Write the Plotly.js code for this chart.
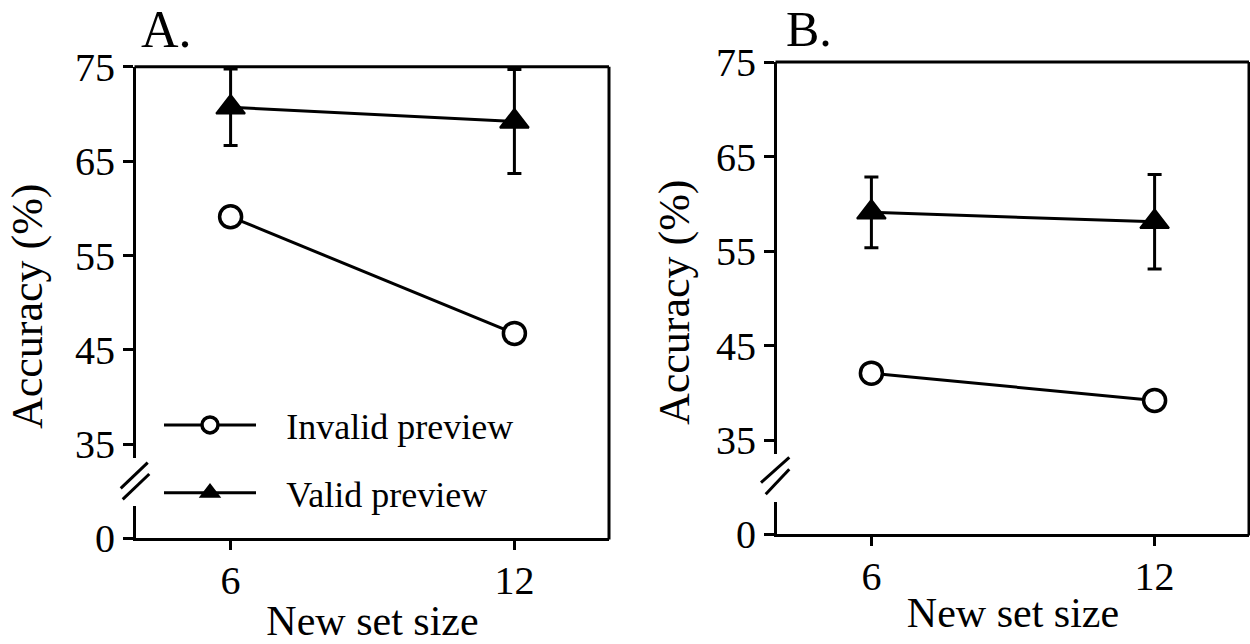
<!DOCTYPE html>
<html>
<head>
<meta charset="utf-8">
<script src="https://cdn.plot.ly/plotly-3.0.1.min.js"></script>
<style>html,body{margin:0;padding:0;background:#fff;}#chart{width:1250px;height:644px;}</style>
</head>
<body>
<div id="chart"></div>
<script>
// ---- data ----
const setSize = [6, 12];
const xTickVals = [6, 12];
const yUpperTicks = [35, 45, 55, 65, 75];
const yLowerTicks = [0];
const seriesNames = ['Invalid preview', 'Valid preview'];
const aInvalid = [59.1, 46.75];
const aValid = [70.7, 69.2];
const aValidErr = [4.05, 5.5];
const bInvalid = [42.1, 39.2];
const bValid = [59.1, 58.1];
const bValidErr = [3.75, 5.0];
const panelLabels = ['A.', 'B.'];
const xTitle = 'New set size';
const yTitle = 'Accuracy (%)';

// ---- geometry (pixels) ----
const W = 1250, H = 644;
const fx = x => x / W, fy = y => 1 - y / H;
const A = {xL:136, xR:609, yTop:66.7, yUpBot:458, yLowTop:506, yBot:538};
const B = {xL:777, xR:1249, yTop:62, yUpBot:454, yLowTop:502, yBot:534};
const FONT = '"Liberation Serif", "Times New Roman", serif';
const LEG_PAD = '\u2002\u2009';

function lineTrace(x, y, name, xa, ya, sym, err, legend) {
  const t = {
    x: x, y: y, name: LEG_PAD + name, type: 'scatter', mode: 'lines+markers',
    xaxis: xa, yaxis: ya, showlegend: legend, legendgroup: name,
    line: {color: '#000', width: 3},
    marker: sym === 'circle'
      ? {symbol: 'circle', size: 22, color: '#fff', line: {color: '#000', width: 3.5}}
      : {symbol: 'triangle-up', size: 25, color: '#000', line: {color: '#000', width: 2}},
    cliponaxis: false
  };
  if (err) t.error_y = {type: 'data', array: err, visible: true, color: '#000', thickness: 3, width: 7};
  return t;
}
// empty helper traces so the lower (broken) y-axis segments exist as subplots
function emptyTrace(xa, ya) {
  return {x: [], y: [], type: 'scatter', mode: 'markers', xaxis: xa, yaxis: ya, showlegend: false, hoverinfo: 'skip'};
}

const traces = [
  lineTrace(setSize, aInvalid, seriesNames[0], 'x', 'y', 'circle', null, true),
  lineTrace(setSize, aValid, seriesNames[1], 'x', 'y', 'triangle', aValidErr, true),
  lineTrace(setSize, bInvalid, seriesNames[0], 'x2', 'y3', 'circle', null, false),
  lineTrace(setSize, bValid, seriesNames[1], 'x2', 'y3', 'triangle', bValidErr, false),
  emptyTrace('x', 'y2'),
  emptyTrace('x2', 'y4')
];

const tickFont = {family: FONT, size: 40, color: '#000'};
function xAxis(P, anchor, standoff) {
  return {domain: [fx(P.xL), fx(P.xR)], anchor: anchor, range: [4, 14],
    tickvals: xTickVals, ticktext: xTickVals.map(String), ticks: 'outside', ticklen: 9, tickwidth: 3,
    tickcolor: '#000', showline: true, linewidth: 3, linecolor: '#000', showgrid: false, zeroline: false,
    tickfont: tickFont, fixedrange: true, ticklabelstandoff: -4,
    title: {text: xTitle, font: {family: FONT, size: 42, color: '#000'}, standoff: standoff}};
}
function yUpper(P, anchor) {
  return {domain: [fy(P.yUpBot), fy(P.yTop)], anchor: anchor, range: [33.55, 75],
    tickvals: yUpperTicks, ticks: 'outside', ticklen: 10, tickwidth: 3, tickcolor: '#000',
    showline: true, linewidth: 3, linecolor: '#000', showgrid: false, zeroline: false,
    tickfont: tickFont, fixedrange: true};
}
function yLower(P, anchor) {
  return {domain: [fy(P.yBot), fy(P.yLowTop)], anchor: anchor, range: [0, 3.39],
    tickvals: yLowerTicks, ticks: 'outside', ticklen: 10, tickwidth: 3, tickcolor: '#000',
    showline: true, linewidth: 3, linecolor: '#000', showgrid: false, zeroline: false,
    tickfont: tickFont, fixedrange: true};
}

function seg(x0, y0, x1, y1) {
  return {type: 'line', xref: 'paper', yref: 'paper', x0: fx(x0), y0: fy(y0), x1: fx(x1), y1: fy(y1),
    line: {color: '#000', width: 3}};
}
const shapes = [
  seg(A.xL - 1.5, A.yTop, A.xR, A.yTop), seg(A.xR, A.yTop, A.xR, A.yBot + 1.5),
  seg(B.xL - 1.5, B.yTop, B.xR, B.yTop), seg(B.xR, B.yTop, B.xR, B.yBot + 1.5),
  // axis break marks
  seg(120.7, 488.3, 147.7, 462.7), seg(122.7, 499.3, 149.3, 474),
  seg(761, 482.7, 789.3, 457.3), seg(765.7, 494.3, 789.3, 469.3)
];

const annotations = [
  {text: panelLabels[0], x: fx(140), y: fy(0), xref: 'paper', yref: 'paper', xanchor: 'left', yanchor: 'top',
   showarrow: false, borderpad: 0, font: {family: FONT, size: 52, color: '#000'}},
  {text: panelLabels[1], x: fx(785), y: fy(0), xref: 'paper', yref: 'paper', xanchor: 'left', yanchor: 'top',
   showarrow: false, borderpad: 0, font: {family: FONT, size: 50, color: '#000'}},
  {text: yTitle, x: fx(28), y: fy(306), xref: 'paper', yref: 'paper', textangle: -90, xanchor: 'center', yanchor: 'middle',
   showarrow: false, font: {family: FONT, size: 44, color: '#000'}},
  {text: yTitle, x: fx(674), y: fy(302), xref: 'paper', yref: 'paper', textangle: -90, xanchor: 'center', yanchor: 'middle',
   showarrow: false, font: {family: FONT, size: 44, color: '#000'}}
];

const layout = {
  width: W, height: H, margin: {l: 0, r: 0, t: 0, b: 0},
  paper_bgcolor: '#fff', plot_bgcolor: 'rgba(0,0,0,0)',
  font: {family: FONT, color: '#000'},
  xaxis: xAxis(A, 'y2', 10),
  xaxis2: xAxis(B, 'y4', 0),
  yaxis: yUpper(A, 'x'),
  yaxis2: yLower(A, 'x'),
  yaxis3: yUpper(B, 'x2'),
  yaxis4: yLower(B, 'x2'),
  showlegend: true,
  legend: {x: fx(159), y: fy(395), xanchor: 'left', yanchor: 'top', bgcolor: 'rgba(0,0,0,0)',
    font: {family: FONT, size: 36, color: '#000'}, itemwidth: 92, traceorder: 'grouped', tracegroupgap: 18},
  shapes: shapes,
  annotations: annotations
};

Plotly.newPlot('chart', traces, layout, {displayModeBar: false, staticPlot: true});
</script>
</body>
</html>
